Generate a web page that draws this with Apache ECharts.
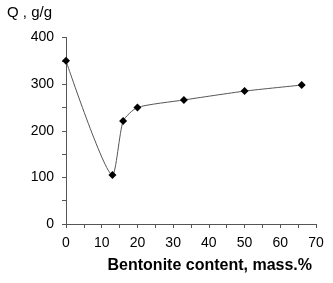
<!DOCTYPE html>
<html><head><meta charset="utf-8">
<script src="https://cdn.jsdelivr.net/npm/echarts@6/dist/echarts.min.js"></script>
<style>html,body{margin:0;padding:0;background:#fff}#c{width:333px;height:283px}</style>
</head><body><div id="c"></div>
<script>
const bentonite = [0, 13, 16, 20, 33, 50, 66];
const qValues = [350, 105, 221, 250, 266, 285, 298];
const xTicks = [0, 10, 20, 30, 40, 50, 60, 70];
const yTicks = [0, 100, 200, 300, 400];
const xTitle = 'Bentonite content, mass.%';
const yTitle = 'Q , g/g';

const chart = echarts.init(document.getElementById('c'), null, {renderer: 'canvas'});
const font = 'Liberation Sans, Arial, sans-serif';
chart.setOption({
  animation: false,
  grid: {left: 66, right: 17, top: 37.5, bottom: 59, containLabel: false},
  xAxis: {
    type: 'value', min: 0, max: 70, interval: 5,
    axisLine: {lineStyle: {color: '#555', width: 1}},
    axisTick: {inside: false, length: 4, lineStyle: {color: '#555'}},
    splitLine: {show: false},
    axisLabel: {
      margin: 12, color: '#000', fontSize: 14, fontFamily: font,
      formatter: v => xTicks.includes(v) ? String(v) : ''
    }
  },
  yAxis: {
    type: 'value', min: 0, max: 400, interval: 50,
    axisLine: {show: true, lineStyle: {color: '#555', width: 1}},
    axisTick: {show: true, inside: false, length: 4, lineStyle: {color: '#555'}},
    splitLine: {show: false},
    axisLabel: {
      margin: 12, color: '#000', fontSize: 14, fontFamily: font,
      formatter: v => yTicks.includes(v) ? String(v) : ''
    }
  },
  series: [{
    type: 'line',
    data: bentonite.map((x, i) => [x, qValues[i]]),
    smooth: 0.2,
    symbol: 'diamond', symbolSize: 8,
    itemStyle: {color: '#000'},
    lineStyle: {color: '#555', width: 1}
  }],
  graphic: [
    {type: 'text', left: 7, top: 5, style: {text: yTitle, font: '15px ' + font, fill: '#000'}},
    {type: 'text', right: 21, top: 258, style: {text: xTitle, font: 'bold 16px ' + font, fill: '#000'}}
  ]
});
</script></body></html>
